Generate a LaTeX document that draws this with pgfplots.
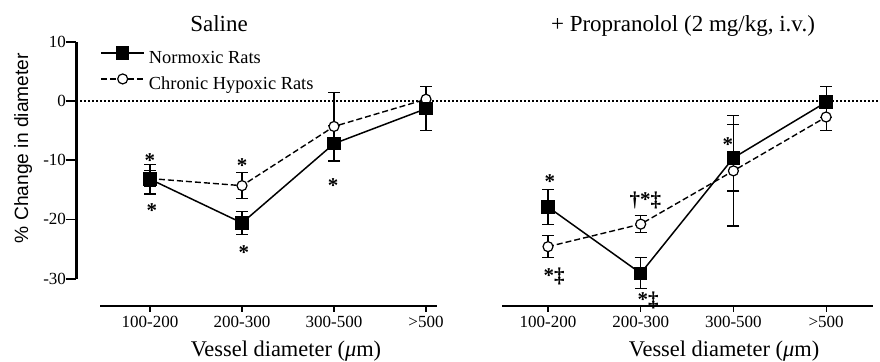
\documentclass[border=0pt]{standalone}
\usepackage{fontspec}
\setmainfont{Liberation Serif}
\setsansfont{Liberation Sans}
\usepackage{pgfplots}
\pgfplotsset{compat=1.18}

\pgfplotsset{
  panel/.style={
    anchor=origin, y=2.96pt,
    ymin=-34.63, ymax=10,
    clip=false,
    axis x line*=bottom, axis y line*=left,
    axis line style={draw=none},
    tick align=outside,
    major tick length=5pt,
    xtick={0,1,2,3}, xticklabels={100-200,200-300,300-500,>500},
    x tick style={draw=none},
    y tick style={black, line width=0.9pt},
    tick label style={font=\fontsize{8.5}{10}\selectfont, inner sep=0pt},
    /pgf/number format/assume math mode=true,
  },
  hyp/.style={black, line width=0.7pt, dash pattern=on 3pt off 1.5pt,
    mark=*, mark size=2.5pt, mark options={solid, fill=white, line width=0.6pt},
    error bars/.cd, y dir=both, y explicit,
    error bar style={solid, line width=0.6pt},
    error mark options={rotate=90, mark size=3pt, line width=0.6pt}},
  nor/.style={black, line width=0.75pt, solid,
    mark=square*, mark size=3pt, mark options={solid, fill=black},
    error bars/.cd, y dir=both, y explicit,
    error bar style={solid, line width=0.6pt},
    error mark options={rotate=90, mark size=3pt, line width=0.6pt}},
}
\newcommand{\xt}[1]{\draw[black, line width=0.6pt] (axis cs:#1,-34.63) -- ([yshift=-3pt]axis cs:#1,-34.63);}

\begin{document}
\begin{tikzpicture}
% ---------------- Saline ----------------
\begin{axis}[panel,
  at={(75pt,-50.5pt)}, x=46pt,
  xmin=-0.8, xmax=3.15,
  ytick={-30,-20,-10,0,10}, yticklabels={-30,-20,-10,0,10},
  reverse legend,
  legend cell align=left,
  legend style={at={(axis cs:-0.543,9.2)}, anchor=north west, draw=none, fill=none,
    font=\fontsize{9.2}{10}\selectfont, inner sep=0pt, row sep=3pt,
    nodes={inner sep=0pt, text height=7pt, text depth=2pt},
    /tikz/column 1/.style={column sep=2pt}},
  legend image code/.code={\draw[mark repeat=2,mark phase=2] plot coordinates {(0pt,3pt) (10.75pt,3pt) (21.5pt,3pt)};},
]
\draw[black, line width=0.6pt, dash pattern=on 1pt off 1pt] (axis cs:-0.8,0) -- (axis cs:3.15,0);
\draw[black, line width=1.3pt] (axis cs:-0.8,-30) -- (axis cs:-0.8,10);
\draw[black, line width=1.3pt] (axis cs:-0.543,-34.63) -- (axis cs:3.12,-34.63);
\xt{0}\xt{1}\xt{2}\xt{3}
\addplot[hyp] coordinates {(0,-13.1) +- (0,1.3) (1,-14.3) +- (0,2.2) (2,-4.3) +- (0,5.8) (3,0.3) +- (0,2.2)};
\addlegendentry{Chronic Hypoxic Rats}
\addplot[nor] coordinates {(0,-13.2) +- (0,2.5) (1,-20.6) +- (0,1.9) (2,-7.2) +- (0,3.0) (3,-1.3) +- (0,3.7)};
\addlegendentry{Normoxic Rats}
\begin{scope}[every node/.style={font=\bfseries\fontsize{10.5}{12}\selectfont, anchor=base, inner sep=0pt}]
\node at (axis cs:0,-11.15) {*};
\node at (axis cs:0.02,-19.76) {*};
\node at (axis cs:1,-12.16) {*};
\node at (axis cs:1.02,-26.69) {*};
\node at (axis cs:1.99,-15.37) {*};
\end{scope}
\node[anchor=base, font=\fontsize{11.5}{13}\selectfont] at (axis cs:0.75,11.66) {Saline};
\node[anchor=base, font=\fontsize{11.2}{13}\selectfont] at (axis cs:1.478,-43.24) {Vessel diameter ({\itshape μ}m)};
\node[rotate=90, anchor=center, font=\sffamily\fontsize{9.6}{11}\selectfont] at (axis cs:-1.38,-7.94) {\% Change in diameter};
\end{axis}
% ---------------- Propranolol ----------------
\begin{axis}[panel,
  at={(274pt,-50.5pt)}, x=46.35pt,
  xmin=-0.5, xmax=3.51,
  ytick=\empty,
]
\draw[black, line width=0.6pt, dash pattern=on 1pt off 1pt] (axis cs:-1.165,0) -- (axis cs:3.56,0);
\draw[black, line width=1.3pt] (axis cs:-0.496,-34.63) -- (axis cs:3.506,-34.63);
\xt{0}\xt{1}\xt{2}\xt{3}
\addplot[hyp] coordinates {(0,-24.6) +- (0,1.9) (1,-20.8) +- (0,1.4) (2,-11.8) +- (0,9.3) (3,-2.7) +- (0,2.3)};
\addplot[nor] coordinates {(0,-17.9) +- (0,3.0) (1,-29.1) +- (0,2.6) (2,-9.6) +- (0,5.6) (3,-0.2) +- (0,2.6)};
\begin{scope}[every node/.style={font=\bfseries\fontsize{10.5}{12}\selectfont, anchor=base, inner sep=0pt}]
\node at (axis cs:0.02,-14.86) {*};
\node at (axis cs:0.065,-30.74) {*‡};
\node at (axis cs:1.05,-17.9) {†*‡};
\node at (axis cs:1.08,-34.63) {*‡};
\node at (axis cs:1.94,-8.6) {*};
\end{scope}
\node[anchor=base, font=\fontsize{11.5}{13}\selectfont] at (axis cs:1.456,11.66) {+ Propranolol (2 mg/kg, i.v.)};
\node[anchor=base, font=\fontsize{11.2}{13}\selectfont] at (axis cs:1.899,-43.24) {Vessel diameter ({\itshape μ}m)};
\end{axis}
\pgfresetboundingbox
\path (0,0) rectangle (440pt,-180.5pt);
\end{tikzpicture}
\end{document}
